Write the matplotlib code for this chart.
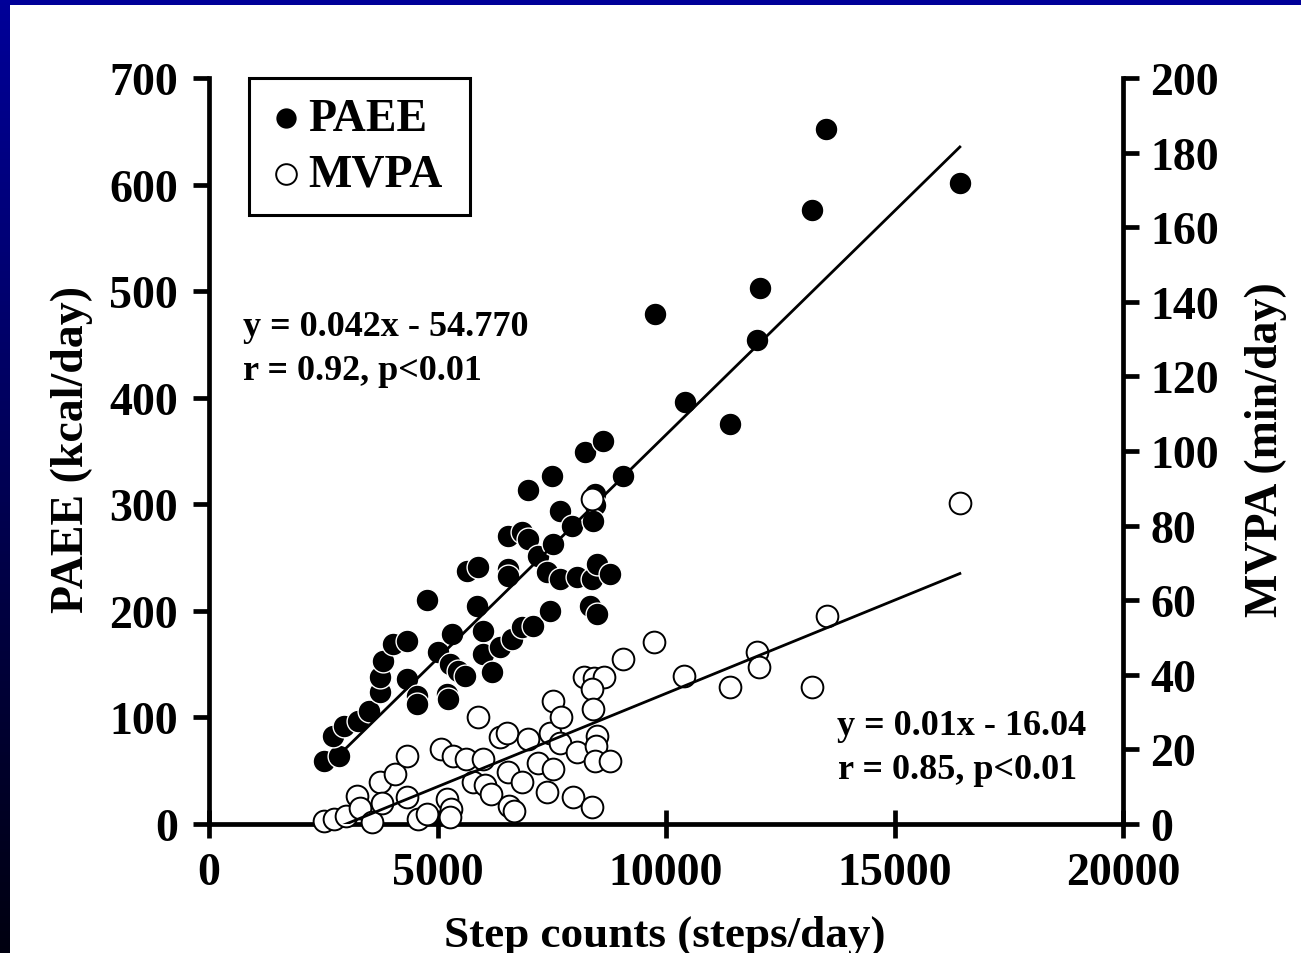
import numpy as np
import matplotlib.pyplot as plt
from matplotlib.colors import LinearSegmentedColormap
from matplotlib.patches import Rectangle

plt.rcParams['font.family'] = ['Liberation Serif', 'DejaVu Serif']
plt.rcParams['font.weight'] = 'bold'

# PAEE (kcal/day) vs step counts
paee_steps = [2516, 2844, 2713, 2954, 3260, 3501, 3742, 3742, 3807, 4026,
              4332, 4332, 4551, 4551, 4770, 5011, 5207, 5229, 5317, 5273,
              5448, 5601, 5645, 5886, 5864, 5995, 5995, 6192, 6367, 6630,
              6848, 7089, 6542, 6848, 6980, 6542, 6542, 7199, 7461, 7395,
              7527, 6980, 7505, 7680, 7942, 7680, 8052, 8380, 8489, 8774,
              8336, 8489, 8446, 8446, 8402, 8227, 8621, 9058, 9758, 10415,
              11400, 11990, 12056, 13194, 13500, 16432]
paee_vals = [59.1, 63.8, 82.6, 91.9, 96.7, 106.0, 123.9, 137.9, 153.0, 168.9,
             171.7, 136.1, 120.1, 112.6, 210.2, 161.4, 122.0, 117.3, 178.3, 150.1,
             143.6, 138.9, 237.4, 241.2, 204.6, 181.1, 159.5, 142.6, 166.1, 173.6,
             184.9, 185.8, 270.2, 274.0, 267.4, 239.3, 232.7, 251.5, 199.9, 236.5,
             262.7, 313.4, 326.6, 293.7, 279.6, 229.9, 231.8, 229.9, 244.0, 234.6,
             204.6, 197.1, 309.7, 299.3, 284.3, 349.1, 359.4, 326.6, 478.6, 396.0,
             375.3, 454.2, 503.0, 576.2, 652.2, 601.5]

# MVPA (min/day) vs step counts
mvpa_steps = [2516, 2735, 2997, 3238, 3304, 3566, 3742, 3786, 4070, 4332,
              4332, 4573, 4770, 5077, 5339, 5623, 5207, 5295, 5273, 5886,
              5995, 5776, 6039, 6170, 6367, 6521, 6542, 6848, 6564, 6673,
              6980, 7199, 7461, 7527, 7702, 7680, 7527, 7395, 7965, 8052,
              8380, 8205, 8424, 8643, 8380, 8402, 8489, 8468, 8446, 8774,
              9058, 9736, 10393, 11400, 11990, 12034, 13194, 13522, 16432, 8380]
mvpa_vals = [0.8, 1.3, 2.1, 7.5, 4.3, 0.5, 11.3, 5.6, 13.4, 18.2,
             7.2, 1.3, 2.7, 20.1, 18.2, 17.4, 6.7, 4.0, 1.9, 28.7,
             17.4, 11.3, 10.5, 8.0, 23.3, 24.4, 13.9, 11.3, 4.8, 3.5,
             22.8, 16.4, 24.4, 33.0, 28.7, 21.7, 14.7, 8.6, 7.2, 19.3,
             4.6, 39.4, 39.1, 39.4, 36.2, 30.8, 23.6, 20.9, 16.9, 16.9,
             44.2, 48.8, 39.7, 36.7, 46.1, 42.1, 36.7, 55.8, 86.1, 87.1]

# regression lines as drawn
paee_fit = (0.042, -54.770)
paee_fit_x = np.array([2700, 16430])
mvpa_fit = (0.005, -15.0)
mvpa_fit_x = np.array([2516, 16430])

x_ticks = [0, 5000, 10000, 15000, 20000]
left_ticks = list(range(0, 701, 100))
right_ticks = list(range(0, 201, 20))

fig = plt.figure(figsize=(13.01, 9.54), dpi=100)

# blue slide frame
bg = fig.add_axes([0, 0, 1, 1], zorder=-10)
bg.axis('off')
frame_cmap = LinearSegmentedColormap.from_list('frame', ['#000099', '#000010'])
bg.imshow(np.linspace(0, 1, 256).reshape(-1, 1), cmap=frame_cmap, aspect='auto',
          extent=[0, 1, 0, 1])
bg.add_patch(Rectangle((10 / 1301, 0), 1, (954 - 6) / 954, facecolor='white', edgecolor='none'))
bg.set_xlim(0, 1)
bg.set_ylim(0, 1)

ax = fig.add_axes([209 / 1301, 129 / 954, 914 / 1301, 746 / 954])
ax2 = ax.twinx()

sc1 = ax.scatter(paee_steps, paee_vals, s=270, c='black', edgecolors='white',
                 linewidths=1.0, clip_on=False, zorder=3, label='PAEE')
ax.plot(paee_fit_x, paee_fit[0] * paee_fit_x + paee_fit[1], color='black', lw=2.0, zorder=4)

sc2 = ax2.scatter(mvpa_steps, mvpa_vals, s=245, c='white', edgecolors='black',
                  linewidths=1.4, clip_on=False, zorder=3, label='MVPA')
ax2.plot(mvpa_fit_x, mvpa_fit[0] * mvpa_fit_x + mvpa_fit[1], color='black', lw=2.0, zorder=4)

ax.set_xlim(0, 20000)
ax.set_ylim(0, 700)
ax2.set_ylim(0, 200)
ax.set_xticks(x_ticks)
ax.set_yticks(left_ticks)
ax2.set_yticks(right_ticks)

for a in (ax, ax2):
    a.spines['top'].set_visible(False)
    for s in a.spines.values():
        s.set_linewidth(3.4)
    a.patch.set_alpha(0)
ax.spines['right'].set_visible(False)
ax2.spines['left'].set_visible(False)
ax2.spines['bottom'].set_visible(False)

ax.tick_params(axis='y', direction='out', length=11.5, width=3.4, labelsize=33, pad=11)
ax.tick_params(axis='x', direction='inout', length=20, width=3.4, labelsize=33, pad=10)
ax2.tick_params(axis='y', direction='out', length=11.5, width=3.4, labelsize=33, pad=8)

ax.set_xlabel('Step counts (steps/day)', fontsize=32.5, fontweight='bold')
ax.set_ylabel('PAEE (kcal/day)', fontsize=33, fontweight='bold')
ax2.set_ylabel('MVPA (min/day)', fontsize=33, fontweight='bold', rotation=90)
ax.xaxis.set_label_coords(0.499, -0.121)
ax.yaxis.set_label_coords(-0.127, 0.503)
ax2.yaxis.set_label_coords(1.1335, 0.503)

ax.text(744, 459, 'y = 0.042x - 54.770', fontsize=26, fontweight='bold', va='baseline')
ax.text(744, 417.6, 'r = 0.92, p<0.01', fontsize=26, fontweight='bold', va='baseline')
ax.text(13740, 84.5, 'y = 0.01x - 16.04', fontsize=26, fontweight='bold', va='baseline')
ax.text(13760, 43.2, 'r = 0.85, p<0.01', fontsize=26, fontweight='bold', va='baseline')

leg = ax2.legend(handles=[sc1, sc2], loc='upper left', mode='expand',
                 bbox_to_anchor=(249 / 1301, 1 - 79 / 954, 221 / 1301, 0),
                 bbox_transform=fig.transFigure, fontsize=33, frameon=True,
                 fancybox=False, edgecolor='black', borderpad=0.43,
                 handlelength=0.77, handletextpad=0.1, labelspacing=0.3,
                 markerscale=0.95, borderaxespad=0)
leg.get_frame().set_linewidth(2.2)
leg.get_frame().set_alpha(1)
for t in leg.get_texts():
    t.set_fontweight('bold')

fig.savefig('out.png', dpi=100)
plt.close(fig)
